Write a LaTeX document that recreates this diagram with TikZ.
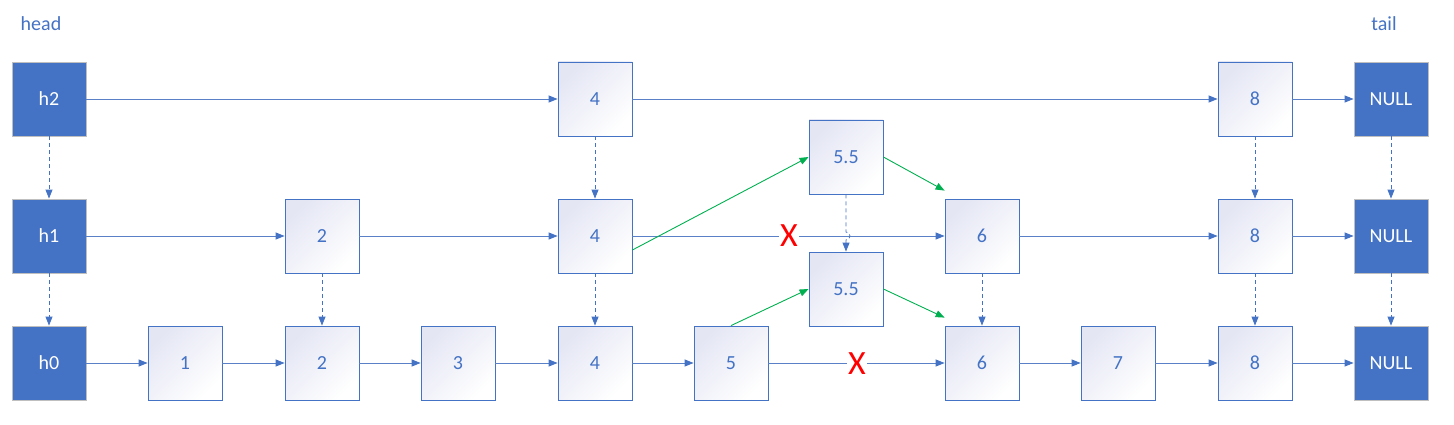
\documentclass[tikz,border=0pt]{standalone}
\usepackage{fontspec}
\setmainfont{Carlito}
\usetikzlibrary{arrows.meta,calc}
\definecolor{blu}{HTML}{4472C4}
\definecolor{lineblu}{HTML}{5A80C8}
\definecolor{lav}{HTML}{E4E6F4}
\definecolor{grn}{HTML}{00B050}
\definecolor{hbord}{HTML}{BFBFBF}
\begin{document}
\begin{tikzpicture}[x=1pt,y=-1pt,
  hnode/.style={draw=hbord,line width=0.8pt,fill=blu,text=white,minimum width=74pt,minimum height=74pt,inner sep=0pt,font=\fontsize{20}{22}\selectfont},
  vnode/.style={draw=blu,line width=0.8pt,top color=lav,bottom color=white,shading angle=45,text=blu,minimum width=74pt,minimum height=74pt,inner sep=0pt,font=\fontsize{20}{22}\selectfont},
  harr/.style={draw=lineblu,line width=0.9pt,-{Triangle[length=9pt,width=7pt,color=blu]}},
  darr/.style={draw=blu,line width=0.8pt,dash pattern=on 4pt off 3pt,-{Triangle[length=9pt,width=7pt,color=blu]}},
  garr/.style={draw=grn,line width=0.9pt,-{Triangle[length=9pt,width=7pt]}},
  xmark/.style={text=red,font=\fontsize{34}{34}\selectfont,inner sep=1pt},
  lbl/.style={text=blu,font=\fontsize{20}{22}\selectfont}]
\useasboundingbox (0,0) rectangle (1454,425);
% labels
\node[lbl] (head) at (41,24) {head};
\node[lbl] (tail) at (1384,24) {tail};
% row 0
\node[hnode] (h2) at (49,99) {h2};
\node[vnode] (a4) at (595,99) {4};
\node[vnode] (a8) at (1255,99) {8};
\node[hnode] (aN) at (1391,99) {NULL};
% row 1
\node[hnode] (h1) at (49,236) {h1};
\node[vnode] (b2) at (322,236) {2};
\node[vnode] (b4) at (595,236) {4};
\node[vnode] (s1) at (846,157) {5.5};
\node[vnode] (b6) at (982,236) {6};
\node[vnode] (b8) at (1255,236) {8};
\node[hnode] (bN) at (1391,236) {NULL};
% row 2
\node[hnode] (h0) at (49,363) {h0};
\node[vnode] (c1) at (185,363) {1};
\node[vnode] (c2) at (322,363) {2};
\node[vnode] (c3) at (458,363) {3};
\node[vnode] (c4) at (595,363) {4};
\node[vnode] (c5) at (731,363) {5};
\node[vnode] (s2) at (846,289) {5.5};
\node[vnode] (c6) at (982,363) {6};
\node[vnode] (c7) at (1118,363) {7};
\node[vnode] (c8) at (1255,363) {8};
\node[hnode] (cN) at (1391,363) {NULL};
% horizontal row 0
\draw[harr] (h2) -- (a4);
\draw[harr] (a4) -- (a8);
\draw[harr] (a8) -- (aN);
% row 1
\draw[harr] (h1) -- (b2);
\draw[harr] (b2) -- (b4);
\draw[harr] (b4) -- (b6);
\draw[harr] (b6) -- (b8);
\draw[harr] (b8) -- (bN);
% row 2
\draw[harr] (h0) -- (c1);
\draw[harr] (c1) -- (c2);
\draw[harr] (c2) -- (c3);
\draw[harr] (c3) -- (c4);
\draw[harr] (c4) -- (c5);
\draw[harr] (c5) -- (c6);
\draw[harr] (c6) -- (c7);
\draw[harr] (c7) -- (c8);
\draw[harr] (c8) -- (cN);
% X marks
\node[xmark,fill=white] (x1) at (789,236) {X};
\node[xmark,fill=white] (x2) at (857,364) {X};
% vertical dashed
\draw[darr] (h2) -- (h1);
\draw[darr] (h1) -- (h0);
\draw[darr] (a4) -- (b4);
\draw[darr] (b4) -- (c4);
\draw[darr] (b2) -- (c2);
\draw[darr] (b6) -- (c6);
\draw[darr] (a8) -- (b8);
\draw[darr] (b8) -- (c8);
\draw[darr] (aN) -- (bN);
\draw[darr] (bN) -- (cN);
% hop over
\coordinate (hopA) at (846,232);
\draw[darr] (s1.south) -- (hopA) arc[start angle=90,end angle=-90,radius=4pt] -- (s2.north);
% green
\draw[garr] ([yshift=-14pt]b4.east) -- (s1.west);
\draw[garr] (s1.east) -- ([yshift=8pt]b6.north west);
\draw[garr] (c5.north) -- (s2.west);
\draw[garr] (s2.east) -- ([yshift=8pt]c6.north west);
\end{tikzpicture}
\end{document}
